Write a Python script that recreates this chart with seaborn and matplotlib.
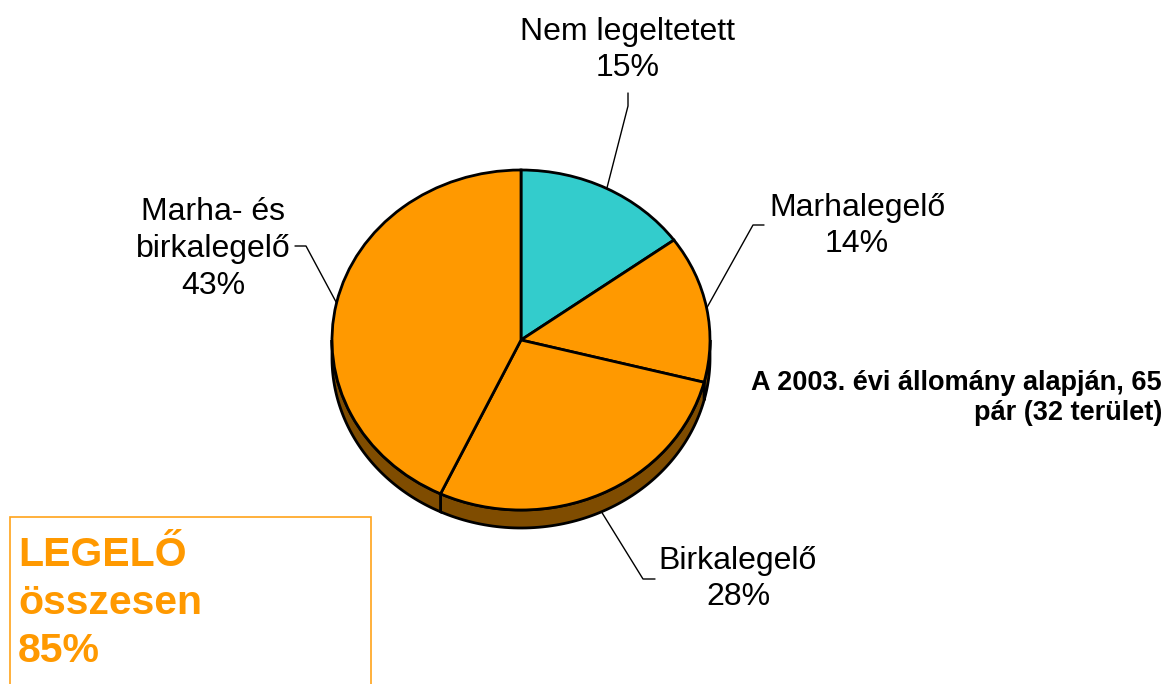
import numpy as np
import matplotlib
matplotlib.use("Agg")
import matplotlib.pyplot as plt
from matplotlib.patches import Polygon, Rectangle
import seaborn as sns

# data
labels = ["Nem legeltetett", "Marhalegelő", "Birkalegelő", "Marha- és\nbirkalegelő"]
shares = [15, 14, 28, 43]
colors = ["#33CCCC", "#FF9900", "#FF9900", "#FF9900"]
note = "A 2003. évi állomány alapján, 65\npár (32 terület)"
total_text = "LEGELŐ\nösszesen\n85%"

# layout (pixel positions, origin top-left)
W, H = 1168, 684
CX, CY, RX, RY = 521, 340, 189, 170
DEPTH = 18 / RY
SIDE = "#7F4C00"
label_pos = [(628, 50), (857, 226), (738, 579), (213, 249)]
elbows = [[(628, 106), (628, 93)],
          [(753, 225), (764, 225)],
          [(643, 579), (655, 579)],
          [(306, 246), (295, 246)]]


def px(x, y):
    """pixel position -> data coords of the pie axes"""
    return (x - CX) / RX, (CY - y) / RY


sns.set_theme(style="white")
plt.rcParams["font.family"] = ["Liberation Sans", "DejaVu Sans"]

fig = plt.figure(figsize=(W / 100, H / 100), dpi=100)
ax = fig.add_axes([0, 0, 1, 1])
wedges, _ = ax.pie(shares, colors=colors, startangle=90, counterclock=False,
                   radius=1, center=(0, 0), frame=True,
                   wedgeprops=dict(edgecolor="black", linewidth=2))
ax.set_aspect("auto")
ax.set_xlim(px(0, 0)[0], px(W, 0)[0])
ax.set_ylim(px(0, H)[1], px(0, 0)[1])
ax.axis("off")

# side wall of the 3D pie (front half only)
for w in wedges:
    a, b = max(w.theta1, -180), min(w.theta2, 0)
    if a >= b:
        continue
    t = np.radians(np.linspace(a, b, 80))
    top = np.column_stack([np.cos(t), np.sin(t)])
    bot = np.column_stack([np.cos(t[::-1]), np.sin(t[::-1]) - DEPTH])
    ax.add_patch(Polygon(np.vstack([top, bot]), closed=True, facecolor=SIDE,
                         edgecolor="black", linewidth=2, zorder=0))

# labels with leader lines
for w, lab, share, pos, elb in zip(wedges, labels, shares, label_pos, elbows):
    mid = np.radians((w.theta1 + w.theta2) / 2)
    ex, ey = np.cos(mid), np.sin(mid)
    if ey < -0.5:
        ey -= DEPTH  # attach to the bottom of the side wall
    pts = [(ex, ey)] + [px(*p) for p in elb]
    xs, ys = zip(*pts)
    ax.plot(xs, ys, color="black", linewidth=1)
    ax.text(*px(*pos), f"{lab}\n{share}%", ha="center", va="center",
            fontsize=23, color="black", linespacing=1.3)

ax.text(*px(1162, 398), note, ha="right", va="center", multialignment="right",
        fontsize=19.5, fontweight="bold", color="black", linespacing=1.25)

x0, y0 = px(10, 700)
ax.add_patch(Rectangle((x0, y0), 361 / RX, (700 - 517) / RY, facecolor="none",
                       edgecolor="#FFA31A", linewidth=1.2))
ax.text(*px(18, 603), total_text, ha="left", va="center", color="#FF9900",
        fontsize=29.5, fontweight="bold", linespacing=1.35)

fig.savefig("out.png", dpi=100, facecolor="white")
